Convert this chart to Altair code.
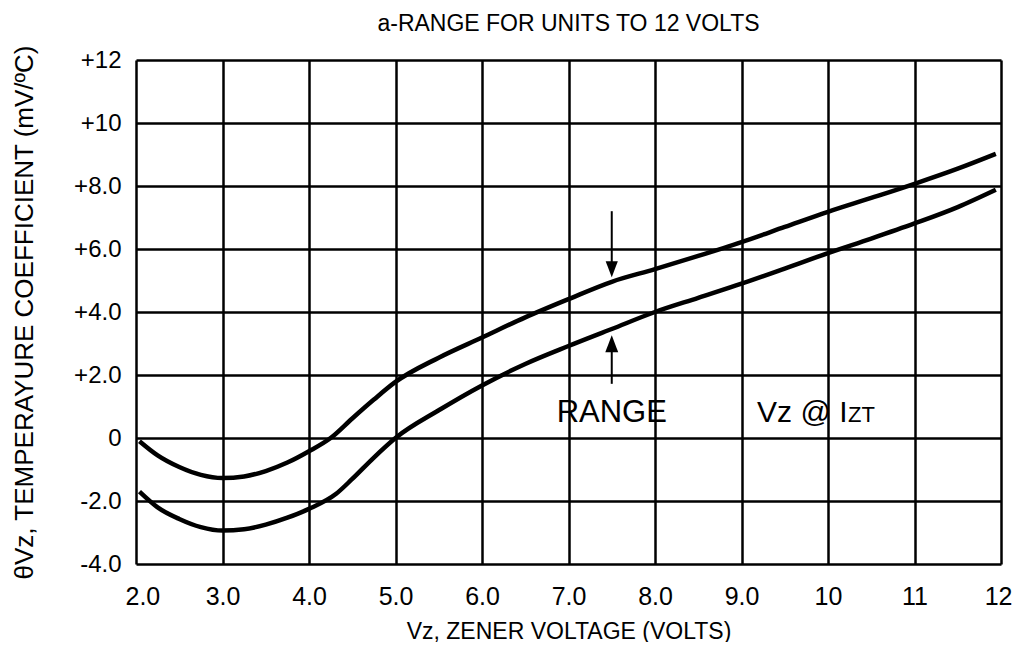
import altair as alt
import pandas as pd

# ---- data ----
UPPER_V = [2.04, 2.25, 2.5, 2.75, 3.0, 3.25, 3.5, 3.75, 4.0, 4.25, 4.5, 4.75, 5.0, 5.5, 6.0,
           6.5, 7.0, 7.5, 8.0, 8.5, 9.0, 9.5, 10.0, 10.5, 11.0, 11.5, 11.94]
UPPER_T = [-0.10, -0.55, -0.92, -1.17, -1.27, -1.22, -1.05, -0.78, -0.42, 0.0, 0.62, 1.22, 1.78,
           2.55, 3.19, 3.83, 4.41, 4.96, 5.36, 5.78, 6.22, 6.70, 7.18, 7.62, 8.07, 8.55, 9.02]
LOWER_V = [2.04, 2.25, 2.5, 2.75, 3.0, 3.25, 3.5, 3.75, 4.0, 4.31, 4.5, 4.75, 5.0, 5.5, 6.0,
           6.5, 7.0, 7.5, 8.0, 8.5, 9.0, 9.5, 10.0, 10.5, 11.0, 11.5, 11.94]
LOWER_T = [-1.70, -2.20, -2.57, -2.83, -2.94, -2.90, -2.75, -2.53, -2.25, -1.78, -1.30, -0.62, 0.0,
           0.88, 1.67, 2.35, 2.92, 3.46, 4.0, 4.45, 4.90, 5.38, 5.87, 6.33, 6.81, 7.33, 7.88]

X_TICKS = [2, 3, 4, 5, 6, 7, 8, 9, 10, 11, 12]
X_LABELS = ["2.0", "3.0", "4.0", "5.0", "6.0", "7.0", "8.0", "9.0", "10", "11", "12"]
Y_TICKS = [-4, -2, 0, 2, 4, 6, 8, 10, 12]
Y_LABELS = ["-4.0", "-2.0", "0", "+2.0", "+4.0", "+6.0", "+8.0", "+10", "+12"]

TITLE = "a-RANGE FOR UNITS TO 12 VOLTS"
X_TITLE = "Vz, ZENER VOLTAGE (VOLTS)"
Y_TITLE = "\u03b8Vz, TEMPERAYURE COEFFICIENT (mV/\u00baC)"

# annotations (data coordinates)
ARROW_X = 7.5
ARROW_DOWN = [7.2, 5.1]   # shaft top, tip
ARROW_UP = [1.72, 3.26]   # shaft bottom, tip
RANGE_POS = [7.5, 0.5]
VZ_POS = [9.18, 0.5]

FONT = "Liberation Sans"


def label_expr(ticks, labels):
    expr = "''"
    for t, l in reversed(list(zip(ticks, labels))):
        expr = f"datum.value == {t} ? '{l}' : ({expr})"
    return expr


curves = pd.DataFrame(
    [{"v": v, "t": t, "s": "upper"} for v, t in zip(UPPER_V, UPPER_T)]
    + [{"v": v, "t": t, "s": "lower"} for v, t in zip(LOWER_V, LOWER_T)]
)

x_scale = alt.Scale(domain=[2, 12], nice=False, zero=False)
y_scale = alt.Scale(domain=[-4, 12], nice=False, zero=False)

x_axis = alt.Axis(
    values=X_TICKS, labelExpr=label_expr(X_TICKS, X_LABELS), title=X_TITLE,
    grid=True, ticks=False, domain=False, labelPadding=20, labelFontSize=25,
    titleFontSize=23, titlePadding=11, labelFont=FONT, titleFont=FONT,
    labelColor="black", titleColor="black", titleFontWeight="normal",
    gridColor="black", gridWidth=2.5, gridOpacity=1,
    labelFlush=True, labelFlushOffset=11,
)
y_axis = alt.Axis(
    values=Y_TICKS, labelExpr=label_expr(Y_TICKS, Y_LABELS), title=Y_TITLE,
    grid=True, ticks=False, domain=False, labelPadding=15, labelFontSize=24,
    titleFontSize=26, titlePadding=36, labelFont=FONT, titleFont=FONT,
    labelColor="black", titleColor="black", titleFontWeight="normal",
    gridColor="black", gridWidth=2.5, gridOpacity=1, labelFlush=False,
)

lines = alt.Chart(curves).mark_line(
    color="black", strokeWidth=4.5, interpolate="monotone"
).encode(
    x=alt.X("v:Q", scale=x_scale, axis=x_axis),
    y=alt.Y("t:Q", scale=y_scale, axis=y_axis),
    detail="s:N",
)

arrows = pd.DataFrame([
    {"x": ARROW_X, "y0": ARROW_DOWN[0], "y1": ARROW_DOWN[1] + 0.3},
    {"x": ARROW_X, "y0": ARROW_UP[0], "y1": ARROW_UP[1] - 0.3},
])
shafts = alt.Chart(arrows).mark_rule(color="black", strokeWidth=2).encode(
    x=alt.X("x:Q", scale=x_scale), y=alt.Y("y0:Q", scale=y_scale), y2="y1:Q"
)
head_down = alt.Chart(pd.DataFrame([{"x": ARROW_X, "y": ARROW_DOWN[1]}])).mark_point(
    shape="M0,0 L-0.38,-1 L0.38,-1 Z", size=1024, filled=True, color="black", opacity=1
).encode(x=alt.X("x:Q", scale=x_scale), y=alt.Y("y:Q", scale=y_scale))
head_up = alt.Chart(pd.DataFrame([{"x": ARROW_X, "y": ARROW_UP[1]}])).mark_point(
    shape="M0,0 L-0.38,1 L0.38,1 Z", size=1156, filled=True, color="black", opacity=1
).encode(x=alt.X("x:Q", scale=x_scale), y=alt.Y("y:Q", scale=y_scale))


def text_layer(txt, pos, size, align, dx=0):
    return alt.Chart(pd.DataFrame([{"x": pos[0], "y": pos[1], "t": txt}])).mark_text(
        font=FONT, fontSize=size, color="black", align=align, baseline="alphabetic", dx=dx
    ).encode(x=alt.X("x:Q", scale=x_scale), y=alt.Y("y:Q", scale=y_scale), text="t:N")


range_txt = text_layer("RANGE", RANGE_POS, 31, "center")
vz_txt = text_layer("Vz @ I", VZ_POS, 30, "left")
zt_txt = text_layer("ZT", VZ_POS, 22, "left", dx=91)

chart = alt.layer(
    lines, shafts, head_down, head_up, range_txt, vz_txt, zt_txt
).properties(
    width=865, height=504,
    title=alt.TitleParams(TITLE, fontSize=23, font=FONT, fontWeight="normal",
                          color="black", anchor="middle", offset=9),
    autosize=alt.AutoSizeParams(type="none"),
    padding={"left": 128, "top": 52, "right": 12, "bottom": 78},
).configure_view(
    stroke="black", strokeWidth=3
).configure(background="white")

chart.save("out.html", embed_options={"renderer": "svg", "actions": False})
